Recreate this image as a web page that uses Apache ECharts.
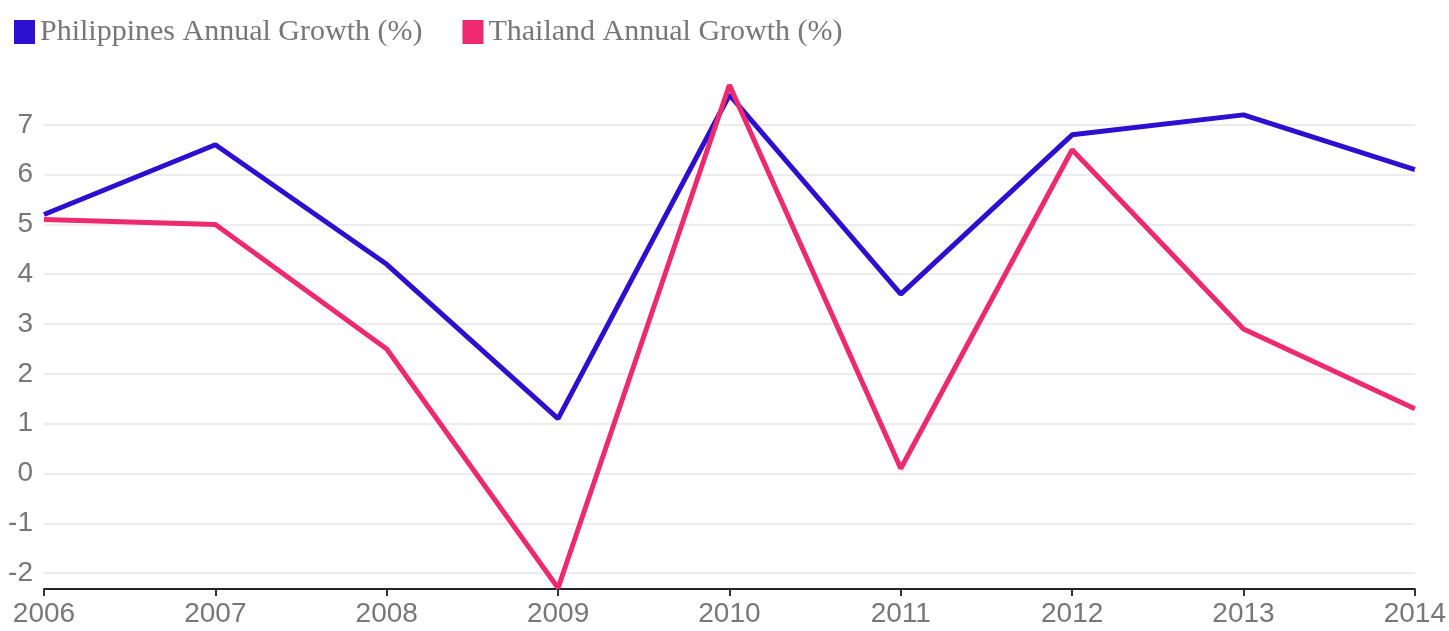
<!DOCTYPE html>
<html>
<head>
<meta charset="utf-8">
<script src="https://cdn.jsdelivr.net/npm/echarts@6/dist/echarts.min.js"></script>
<style>
html,body{margin:0;padding:0;background:#fff;}
#chart{width:1449px;height:631px;}
</style>
</head>
<body>
<div id="chart"></div>
<script>
const years = ['2006','2007','2008','2009','2010','2011','2012','2013','2014'];
const philippines = [5.2, 6.6, 4.2, 1.1, 7.6, 3.6, 6.8, 7.2, 6.1];
const thailand = [5.1, 5.0, 2.5, -2.3, 7.8, 0.1, 6.5, 2.9, 1.3];
const yTicks = [-2, -1, 0, 1, 2, 3, 4, 5, 6, 7];
const seriesNames = ['Philippines Annual Growth (%)', 'Thailand Annual Growth (%)'];

const chart = echarts.init(document.getElementById('chart'));
chart.setOption({
  animation: false,
  backgroundColor: '#fff',
  color: ['#2d0fcf', '#ee2a6e'],
  legend: {
    left: 9, top: 12,
    icon: 'rect',
    itemWidth: 21, itemHeight: 24,
    itemGap: 40,
    textStyle: { fontFamily: 'Liberation Serif', fontSize: 30, color: '#777' },
    data: seriesNames
  },
  grid: { left: 44, right: 30, top: 85, bottom: 42, containLabel: false },
  xAxis: {
    type: 'category',
    data: years,
    boundaryGap: false,
    axisLine: { onZero: false, lineStyle: { color: '#222', width: 2 } },
    axisTick: { show: true, length: 7, lineStyle: { color: '#333', width: 2 } },
    axisLabel: { color: '#777', fontFamily: 'Liberation Sans', fontSize: 28, margin: 11 },
    splitLine: { show: false }
  },
  yAxis: {
    type: 'value',
    min: -2.32, max: 7.8,
    axisLine: { show: false },
    axisTick: { show: false, customValues: yTicks },
    axisLabel: { color: '#777', fontFamily: 'Liberation Sans', fontSize: 28, margin: 11, customValues: yTicks },
    splitLine: { show: true, lineStyle: { color: '#e6e6e6', width: 1.5 } }
  },
  series: [
    { name: seriesNames[0], type: 'line', data: philippines, symbol: 'none', lineStyle: { width: 5 } },
    { name: seriesNames[1], type: 'line', data: thailand, symbol: 'none', lineStyle: { width: 5 } }
  ]
});
</script>
</body>
</html>
